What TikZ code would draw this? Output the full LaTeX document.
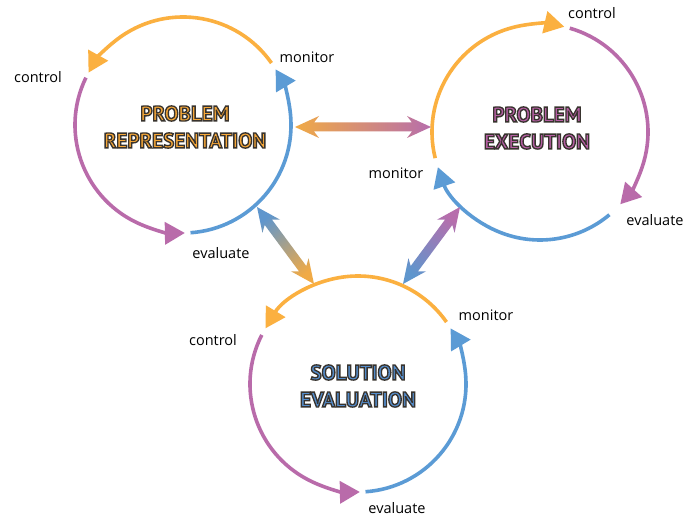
\documentclass[tikz,border=0pt]{standalone}
\usepackage{fontspec}
\setmainfont{Open Sans}
\newfontfamily\titlefamily{PT Sans}
\usetikzlibrary{arrows.meta,calc}
\definecolor{corange}{RGB}{251,176,64}
\definecolor{cpurple}{RGB}{185,107,170}
\definecolor{cblue}{RGB}{91,155,213}
\definecolor{torange}{RGB}{247,168,56}
\definecolor{tpurple}{RGB}{181,94,163}
\definecolor{tblue}{RGB}{84,141,204}
\definecolor{gorange}{RGB}{240,170,70}
\definecolor{gpurple}{RGB}{183,110,172}
\definecolor{gblue}{RGB}{95,150,205}
\newcommand{\strokeon}{\special{pdf:code 2 Tr 1.35 w 0.22 0.2 0.18 RG}}
\newcommand{\strokeoff}{\special{pdf:code 0 Tr}}
\tikzset{
  cyc/.style={line width=3.6pt, -{Triangle[length=20pt,width=22pt]}},
  lbl/.style={font=\fontsize{14.5}{17}\selectfont, text=black, inner sep=0pt},
  ttl/.style={font=\titlefamily\bfseries\fontsize{21}{27}\selectfont, align=center, inner sep=0pt},
}
\newcommand{\gradarrow}[3]{%
  \coordinate (#1p) at ($(#1)!24pt!(#2)$);
  \coordinate (#1q) at ($(#1)!19pt!(#2)$);
  \coordinate (#2p) at ($(#2)!24pt!(#1)$);
  \coordinate (#2q) at ($(#2)!19pt!(#1)$);
  \shade[#3] (#1) -- ($(#1p)!11pt!90:(#2)$) -- ($(#1q)!4.5pt!90:(#2)$)
    -- ($(#2q)!4.5pt!-90:(#1)$) -- ($(#2p)!11pt!-90:(#1)$) -- (#2)
    -- ($(#2p)!11pt!90:(#1)$) -- ($(#2q)!4.5pt!90:(#1)$)
    -- ($(#1q)!4.5pt!-90:(#2)$) -- ($(#1p)!11pt!-90:(#2)$) -- cycle;
}
\begin{document}
\begin{tikzpicture}[x=1pt,y=1pt]
\fill[white] (0,0) rectangle (685,-518);
\useasboundingbox (0,0) rectangle (685,-518);
\coordinate (c1) at (183,-125);
\coordinate (c2) at (540,-132);
\coordinate (c3) at (358,-384);
% circle 1
\draw[cyc, corange] ($(c1)+(35:108)$) arc[start angle=35, end angle=151, radius=108];
\draw[cyc, cpurple] ($(c1)+(154:108)$) arc[start angle=154, end angle=271, radius=108];
\draw[cyc, cblue] ($(c1)+(-86:108)$) arc[start angle=-86, end angle=31, radius=108];
% circle 2
\draw[cyc, corange] ($(c2)+(194:108)$) arc[start angle=194, end angle=77, radius=108];
\draw[cyc, cpurple] ($(c2)+(74:108)$) arc[start angle=74, end angle=-42, radius=108];
\draw[cyc, cblue] ($(c2)+(-50:108)$) arc[start angle=-50, end angle=-161, radius=108];
% circle 3
\draw[cyc, corange] ($(c3)+(35:108)$) arc[start angle=35, end angle=149, radius=108];
\draw[cyc, cpurple] ($(c3)+(153:108)$) arc[start angle=153, end angle=271, radius=108];
\draw[cyc, cblue] ($(c3)+(-86:108)$) arc[start angle=-86, end angle=31, radius=108];
% labels
\node[lbl] (m1) at (307,-57) {monitor};
\node[lbl] (k1) at (38,-77) {control};
\node[lbl] (e1) at (221,-253) {evaluate};
\node[lbl] (k2) at (592,-13) {control};
\node[lbl] (m2) at (396,-173) {monitor};
\node[lbl] (e2) at (655,-220) {evaluate};
\node[lbl] (k3) at (213,-340) {control};
\node[lbl] (m3) at (486,-315) {monitor};
\node[lbl] (e3) at (397,-508) {evaluate};
% titles
\node[ttl, text=torange] (T1) at (185,-127) {\strokeon PROBLEM\\\strokeon REPRESENTATION\strokeoff};
\node[ttl, text=tpurple] (T2) at (537,-128) {\strokeon PROBLEM\\\strokeon EXECUTION\strokeoff};
\node[ttl, text=tblue] (T3) at (358,-386) {\strokeon SOLUTION\\\strokeon EVALUATION\strokeoff};
% gradient double arrows
\coordinate (ha) at (295,-127);
\coordinate (hb) at (431,-127);
\gradarrow{ha}{hb}{left color=gorange, right color=gpurple}
\coordinate (da) at (257,-207);
\coordinate (db) at (314,-284);
\gradarrow{da}{db}{top color=gblue, bottom color=gorange, shading angle=36.7}
\coordinate (ea) at (403,-284);
\coordinate (eb) at (460,-207);
\gradarrow{ea}{eb}{top color=gpurple, bottom color=gblue, shading angle=-37}
\end{tikzpicture}
\end{document}
